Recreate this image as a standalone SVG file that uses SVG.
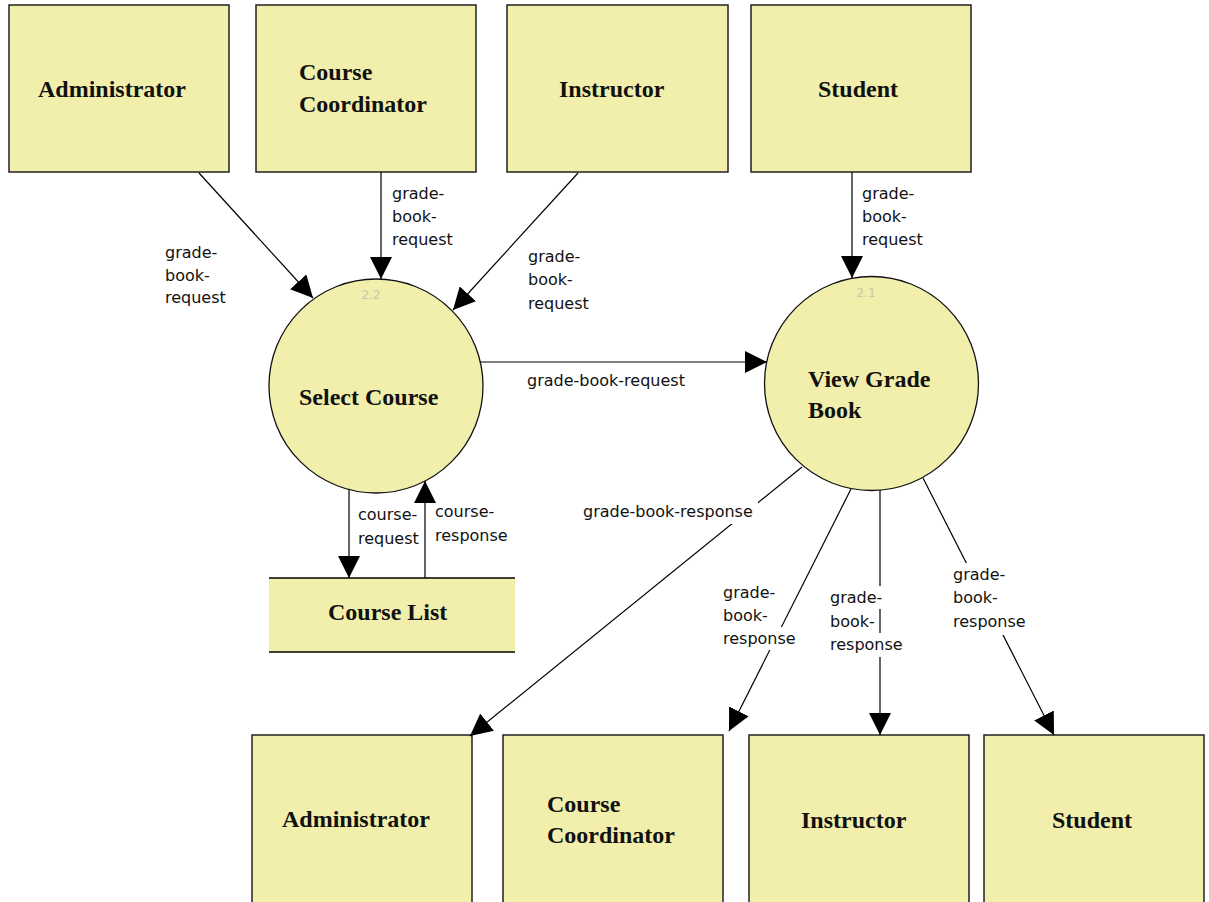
<svg xmlns="http://www.w3.org/2000/svg" width="1209" height="902" viewBox="0 0 1209 902">
  <style>
    .box { fill: #F1EFAB; stroke: #222; stroke-width: 1.5; }
    .proc { fill: #F1EFAB; stroke: #111; stroke-width: 1.3; }
    .store { fill: #F1EFAB; stroke: none; }
    .rule { stroke: #000; stroke-width: 1.5; }
    .name { font-family: "Liberation Serif", "Times New Roman", serif; font-weight: bold; font-size: 24px; fill: #111; }
    .num { font-family: "DejaVu Sans", sans-serif; font-size: 12px; fill: #c9c7a8; }
    .flow { stroke: #000; stroke-width: 1.2; fill: none; marker-end: url(#arrow); }
    .lbl { font-family: "DejaVu Sans", "Verdana", sans-serif; font-size: 16px; fill: #111; }
    .bg { fill: #fff; }
  </style>
  <defs>
    <marker id="arrow" markerUnits="userSpaceOnUse" markerWidth="22" markerHeight="22" refX="22" refY="11" orient="auto">
      <path d="M0,0 L22,11 L0,22 z" fill="#000"/>
    </marker>
  </defs>

  <rect width="1209" height="902" fill="#fff"/>

  <!-- external entities, top row -->
  <g id="admin-src">
    <rect class="box" x="9" y="5" width="220" height="167"/>
    <text class="name" x="38" y="97">Administrator</text>
  </g>
  <g id="coord-src">
    <rect class="box" x="256" y="5" width="220" height="167"/>
    <text class="name" x="299" y="80">Course</text>
    <text class="name" x="299" y="112">Coordinator</text>
  </g>
  <g id="instr-src">
    <rect class="box" x="507" y="5" width="221" height="167"/>
    <text class="name" x="559" y="97">Instructor</text>
  </g>
  <g id="student-src">
    <rect class="box" x="751" y="5" width="220" height="167"/>
    <text class="name" x="818" y="97">Student</text>
  </g>

  <!-- processes -->
  <g id="select-course">
    <circle class="proc" cx="376" cy="386" r="107"/>
    <text class="num" x="371" y="299" text-anchor="middle">2.2</text>
    <text class="name" x="299" y="405">Select Course</text>
  </g>
  <g id="view-grade-book">
    <circle class="proc" cx="871.5" cy="383.5" r="107"/>
    <text class="num" x="866" y="297" text-anchor="middle">2.1</text>
    <text class="name" x="808" y="387">View Grade</text>
    <text class="name" x="808" y="418">Book</text>
  </g>

  <!-- data store -->
  <g id="course-list">
    <rect class="store" x="269" y="578" width="246" height="74"/>
    <line class="rule" x1="269" y1="578" x2="515" y2="578"/>
    <line class="rule" x1="269" y1="652" x2="515" y2="652"/>
    <text class="name" x="328" y="620">Course List</text>
  </g>

  <!-- external entities, bottom row -->
  <g id="admin-dst">
    <rect class="box" x="252" y="735" width="220" height="180"/>
    <text class="name" x="282" y="827">Administrator</text>
  </g>
  <g id="coord-dst">
    <rect class="box" x="503" y="735" width="220" height="180"/>
    <text class="name" x="547" y="812">Course</text>
    <text class="name" x="547" y="843">Coordinator</text>
  </g>
  <g id="instr-dst">
    <rect class="box" x="749" y="735" width="220" height="180"/>
    <text class="name" x="801" y="828">Instructor</text>
  </g>
  <g id="student-dst">
    <rect class="box" x="984" y="735" width="220" height="180"/>
    <text class="name" x="1052" y="828">Student</text>
  </g>

  <!-- data flows -->
  <g id="connectors">
    <line class="flow" x1="199" y1="173" x2="313" y2="298"/>
    <line class="flow" x1="381" y1="172" x2="381" y2="279"/>
    <line class="flow" x1="578" y1="173" x2="453" y2="310"/>
    <line class="flow" x1="852" y1="172" x2="852" y2="278"/>
    <line class="flow" x1="480" y1="362" x2="767" y2="362"/>
    <line class="flow" x1="349" y1="489" x2="349" y2="578"/>
    <line class="flow" x1="425" y1="578" x2="425" y2="481"/>
    <line class="flow" x1="802" y1="467" x2="470" y2="736"/>
    <line class="flow" x1="851" y1="489" x2="729" y2="731"/>
    <line class="flow" x1="880" y1="490" x2="880" y2="735"/>
    <line class="flow" x1="923" y1="478" x2="1054" y2="735"/>
  </g>

  <!-- flow labels -->
  <g id="labels">
    <text class="lbl" x="165" y="258">grade-</text>
    <text class="lbl" x="165" y="281">book-</text>
    <text class="lbl" x="165" y="303">request</text>

    <text class="lbl" x="392" y="199">grade-</text>
    <text class="lbl" x="392" y="222">book-</text>
    <text class="lbl" x="392" y="245">request</text>

    <text class="lbl" x="528" y="262">grade-</text>
    <text class="lbl" x="528" y="285">book-</text>
    <text class="lbl" x="528" y="309">request</text>

    <text class="lbl" x="862" y="199">grade-</text>
    <text class="lbl" x="862" y="222">book-</text>
    <text class="lbl" x="862" y="245">request</text>

    <text class="lbl" x="527" y="386">grade-book-request</text>

    <text class="lbl" x="358" y="520">course-</text>
    <text class="lbl" x="358" y="544">request</text>
    <text class="lbl" x="435" y="517">course-</text>
    <text class="lbl" x="435" y="541">response</text>

    <rect class="bg" x="580" y="500" width="178" height="24"/>
    <text class="lbl" x="583" y="517">grade-book-response</text>

    <rect class="bg" x="721" y="581" width="56" height="23"/>
    <rect class="bg" x="721" y="604" width="48" height="23"/>
    <rect class="bg" x="721" y="627" width="77" height="23"/>
    <text class="lbl" x="723" y="598">grade-</text>
    <text class="lbl" x="723" y="621">book-</text>
    <text class="lbl" x="723" y="644">response</text>

    <rect class="bg" x="828" y="586" width="56" height="23"/>
    <rect class="bg" x="828" y="610" width="47" height="23"/>
    <rect class="bg" x="828" y="633" width="77" height="24"/>
    <text class="lbl" x="830" y="603">grade-</text>
    <text class="lbl" x="830" y="627">book-</text>
    <text class="lbl" x="830" y="650">response</text>

    <rect class="bg" x="951" y="563" width="56" height="23"/>
    <rect class="bg" x="951" y="586" width="48" height="23"/>
    <rect class="bg" x="951" y="609" width="77" height="26"/>
    <text class="lbl" x="953" y="580">grade-</text>
    <text class="lbl" x="953" y="603">book-</text>
    <text class="lbl" x="953" y="627">response</text>
  </g>
</svg>
